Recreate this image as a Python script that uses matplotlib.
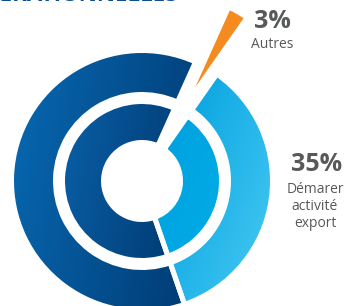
import matplotlib
matplotlib.use("Agg")
import matplotlib.pyplot as plt
import numpy as np
from matplotlib.colors import to_rgb

# ---- data ------------------------------------------------------------------
segments = ["Démarer activité export", "Développer activité export", "Autres"]
outer_shares = [35, 62, 3]
inner_shares = [35, 62, 3]
title = "ORIENTATIONS OPÉRATIONNELLES"
label_pct = ["35%", "3%"]
label_txt = [["Démarer", "activité", "export"], ["Autres"]]

# gradient pairs (start, end) per ring / segment
outer_colors = [("#009fdf", "#48cbf3"), ("#0869b3", "#003a72")]
inner_colors = [("#00a0df", "#00ade6"), ("#0a5fa7", "#003b73")]
orange = "#f58a1f"
grey = "#58595b"

CX, CY = 142, 125


def fill_gradient(ax, wedge, c0, c1, angle):
    (x0, y0), (x1, y1) = wedge.get_path().get_extents().get_points()
    n = 200
    xx, yy = np.meshgrid(np.linspace(0, 1, n), np.linspace(0, 1, n))
    a = np.deg2rad(angle)
    t = xx * np.cos(a) + yy * np.sin(a)
    t = (t - t.min()) / (t.max() - t.min())
    img = (1 - t)[..., None] * np.array(to_rgb(c0)) + t[..., None] * np.array(to_rgb(c1))
    im = ax.imshow(img, extent=(x0, x1, y0, y1), origin="lower", zorder=2,
                   interpolation="bilinear", aspect="auto")
    im.set_clip_path(wedge)
    wedge.set_facecolor("none")
    wedge.set_zorder(3)


fig = plt.figure(figsize=(3.45, 3.06), dpi=100)
ax = fig.add_axes([0, 0, 1, 1])

ring = dict(edgecolor="white", linewidth=3.6)
outer, _ = ax.pie(outer_shares, radius=130.5, center=(CX, CY), startangle=55,
                  counterclock=False, colors=["#00a6e3", "#00508f", "none"],
                  wedgeprops=dict(width=44, **ring))
inner, _ = ax.pie(inner_shares, radius=79.5, center=(CX, CY), startangle=55,
                  counterclock=False, colors=["#00a6e3", "#004a85", "none"],
                  wedgeprops=dict(width=41, **ring))
ax.pie(outer_shares, radius=84, center=(CX, CY), startangle=55, counterclock=False,
       colors=["none", "none", orange], explode=[0, 0, 108],
       wedgeprops=dict(linewidth=0))

fill_gradient(ax, outer[0], *outer_colors[0], angle=-40)
fill_gradient(ax, outer[1], *outer_colors[1], angle=-15)
fill_gradient(ax, inner[0], *inner_colors[0], angle=-40)
fill_gradient(ax, inner[1], *inner_colors[1], angle=-15)
outer[2].set_edgecolor("none")
inner[2].set_edgecolor("none")

# labels
txt = dict(ha="center", va="baseline", color=grey, family="Open Sans")
ax.text(272, 278, label_pct[1], fontsize=18, fontweight="bold", **txt)
ax.text(272, 258, label_txt[1][0], fontsize=10, **txt)
ax.text(317, 135, label_pct[0], fontsize=18, fontweight="bold", **txt)
for i, line in enumerate(label_txt[0]):
    ax.text(315, 113 - 17 * i, line, fontsize=10, **txt)

# title sits mostly above the crop, only its foot shows
ax.text(178, 304.7, title, ha="right", va="baseline", fontsize=16,
        fontweight="bold", color="#0b4f8e", family="Open Sans")

ax.set_xlim(0, 345)
ax.set_ylim(0, 306)
ax.set_aspect("equal")
ax.axis("off")
fig.savefig("out.png", dpi=100)
